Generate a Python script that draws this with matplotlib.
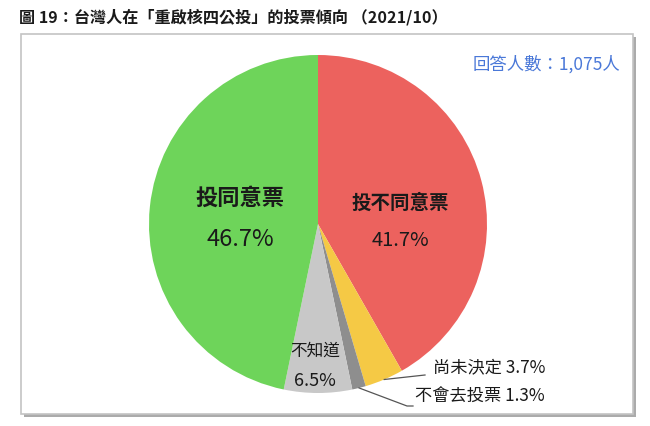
import matplotlib
matplotlib.use("Agg")
import matplotlib.pyplot as plt
from matplotlib.patches import Rectangle
import numpy as np

plt.rcParams['font.family'] = ['Noto Sans CJK TC', 'DejaVu Sans']

# ---- data ----
categories = ["投不同意票", "尚未決定", "不會去投票", "不知道", "投同意票"]
values = [41.7, 3.7, 1.3, 6.5, 46.7]
colors = ["#EC625E", "#F5C945", "#8E8E8E", "#C8C8C8", "#6ED45A"]
title = "圖 19：台灣人在「重啟核四公投」的投票傾向 （2021/10）"
sample_note = "回答人數：1,075人"

W, H = 650, 426
fig = plt.figure(figsize=(W / 100, H / 100), dpi=100)
fig.patch.set_facecolor("white")

def fx(px):
    return px / W

def fy(py):
    return 1 - py / H

# frame box with shadow
shadow = Rectangle((fx(24), fy(417)), fx(636) - fx(24), fy(37) - fy(417),
                   transform=fig.transFigure, facecolor="#ABABAB",
                   edgecolor="none", zorder=0)
box = Rectangle((fx(21), fy(414)), fx(633) - fx(21), fy(34) - fy(414),
                transform=fig.transFigure, facecolor="white",
                edgecolor="#C4C4C4", linewidth=1.2, zorder=1)
fig.patches.extend([shadow, box])

fig.text(fx(19), fy(17), title, fontsize=11.6, fontweight="bold",
         ha="left", va="center", color="#1a1a1a")
fig.text(fx(620), fy(64), sample_note, fontsize=12.5, ha="right",
         va="center", color="#4A78D8")

# pie axes
cx, cy, r = 318, 224, 169
ax = fig.add_axes([fx(cx - r), 1 - (cy + r) / H, 2 * r / W, 2 * r / H])
ax.set_zorder(2)
wedges, _ = ax.pie(values, colors=colors, startangle=90, counterclock=False,
                   wedgeprops=dict(linewidth=0))
ax.set_xlim(-1, 1)
ax.set_ylim(-1, 1)
ax.set_aspect("equal")
ax.axis("off")

def p(px, py):
    return ((px - cx) / r, (cy - py) / r)

tc = "#1a1a1a"
# inside labels
ax.text(*p(240, 198), categories[4], fontsize=16, fontweight="bold",
        ha="center", va="center", color=tc)
ax.text(*p(240, 240), f"{values[4]}%", fontsize=17, ha="center",
        va="center", color=tc)
ax.text(*p(400, 203), categories[0], fontsize=14, fontweight="bold",
        ha="center", va="center", color=tc)
ax.text(*p(400, 240), f"{values[0]}%", fontsize=14.5, ha="center",
        va="center", color=tc)
ax.text(*p(315, 351), categories[3], fontsize=12, ha="center",
        va="center", color=tc)
ax.text(*p(315, 381), f"{values[3]}%", fontsize=13, ha="center",
        va="center", color=tc)

# outside labels with leader lines
def edge_point(w):
    mid = np.deg2rad((w.theta1 + w.theta2) / 2)
    return np.cos(mid), np.sin(mid)

ex, ey = edge_point(wedges[1])
x2, y2 = p(425, 375)
ax.plot([ex, x2], [ey, y2], color="#555555", lw=0.9, clip_on=False)
ax.text(*p(433, 367), f"{categories[1]} {values[1]}%", fontsize=12.4,
        ha="left", va="center", color=tc)

ex, ey = edge_point(wedges[2])
x2, y2 = p(407, 406)
x3, y3 = p(413, 406)
ax.plot([ex, x2, x3], [ey, y2, y3], color="#555555", lw=0.9, clip_on=False)
ax.text(*p(415, 397), f"{categories[2]} {values[2]}%", fontsize=12.4,
        ha="left", va="center", color=tc)

fig.savefig("out.png", dpi=100)
